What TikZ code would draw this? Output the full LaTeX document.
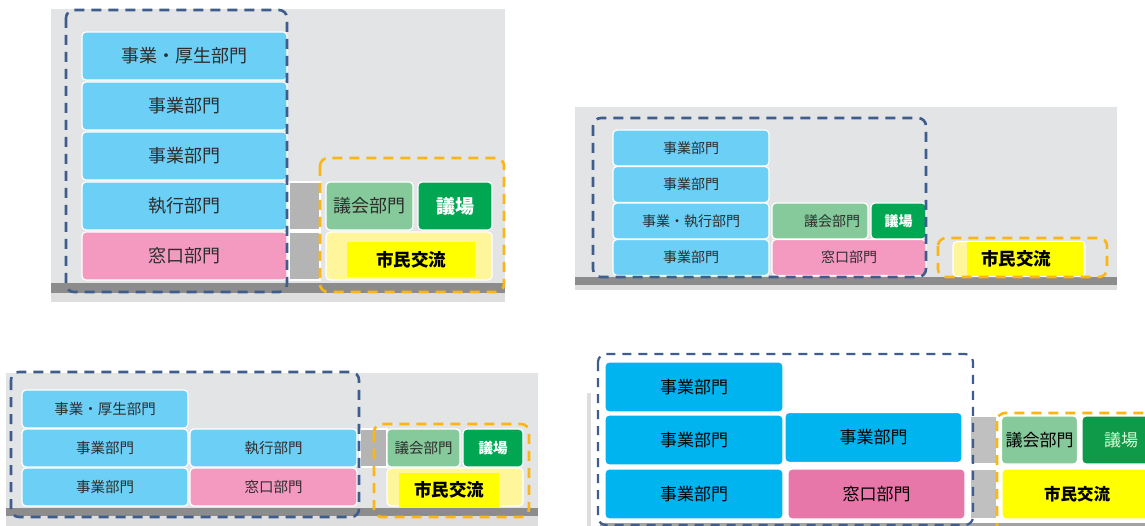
\documentclass[tikz,border=0pt]{standalone}
\usepackage{fontspec}
\setmainfont{Noto Sans CJK JP}

\definecolor{haikei}{RGB}{227,228,230}
\definecolor{jimen}{RGB}{140,140,140}
\definecolor{jimenshita}{RGB}{222,222,222}
\definecolor{tsunagi}{RGB}{180,180,180}
\definecolor{tsunagiD}{RGB}{192,192,192}
\definecolor{ao}{RGB}{108,207,246}
\definecolor{aoD}{RGB}{0,180,239}
\definecolor{momo}{RGB}{244,154,193}
\definecolor{momoD}{RGB}{232,119,169}
\definecolor{usumidori}{RGB}{134,201,154}
\definecolor{midori}{RGB}{0,166,81}
\definecolor{midoriD}{RGB}{14,154,72}
\definecolor{usukiiro}{RGB}{255,245,154}
\definecolor{kiiro}{RGB}{255,255,0}
\definecolor{hasen}{RGB}{62,92,140}
\definecolor{daidai}{RGB}{251,181,21}
\definecolor{moji}{RGB}{45,45,45}

\begin{document}
\begin{tikzpicture}[x=1pt, y=-1pt,
    bu/.style={rectangle, rounded corners=4pt, draw=white, line width=1.2pt, inner sep=0pt, text=moji},
    kaku/.style={rectangle, inner sep=0pt, text=black},
    f18/.style={font=\fontsize{18pt}{18pt}\selectfont},
    f17/.style={font=\fontsize{17pt}{17pt}\selectfont},
    f15/.style={font=\fontsize{14.5pt}{14.5pt}\selectfont},
    f14/.style={font=\fontsize{14pt}{14pt}\selectfont},
    futo/.style={font=\fontsize{#1}{#1}\selectfont\bfseries},
    waku/.style={draw=hasen, line width=2.6pt, dash pattern=on 10pt off 7pt, rounded corners=8pt},
    wakuO/.style={draw=daidai, line width=2.6pt, dash pattern=on 10pt off 7pt, rounded corners=8pt}]
    \useasboundingbox (0,0) rectangle (1145,526);

    % 背景を描画
    \fill[haikei] (51,9) rectangle (505,283);
    \fill[jimen] (51,283) rectangle (505,293);
    \fill[jimenshita] (51,293) rectangle (505,302);
    \fill[haikei] (575,107) rectangle (1117,277);
    \fill[jimen] (575,277) rectangle (1117,285);
    \fill[jimenshita] (575,285) rectangle (1117,290);
    \fill[haikei] (6,373) rectangle (538,508);
    \fill[jimen] (6,508) rectangle (538,516);
    \fill[jimenshita] (6,516) rectangle (538,526);
    \fill[jimenshita] (587,393) rectangle (591,526);
    \fill[jimen!80] (600,523) rectangle (1145,526);

    % ノードを描画（左上）
    \node[bu, f18, fill=ao, minimum width=205pt, minimum height=48pt] (A1) at (184.5,56) {事業・厚生部門};
    \node[bu, f18, fill=ao, minimum width=205pt, minimum height=48pt] (A2) at (184.5,106) {事業部門};
    \node[bu, f18, fill=ao, minimum width=205pt, minimum height=48pt] (A3) at (184.5,156) {事業部門};
    \node[bu, f18, fill=ao, minimum width=205pt, minimum height=48pt] (A4) at (184.5,206) {執行部門};
    \node[bu, f18, fill=momo, minimum width=205pt, minimum height=48pt] (A5) at (184.5,256) {窓口部門};
    \node[bu, fill=tsunagi, rounded corners=0pt, minimum width=31pt, minimum height=48pt] (A6) at (304.5,206) {};
    \node[bu, fill=tsunagi, rounded corners=0pt, minimum width=31pt, minimum height=48pt] (A7) at (304.5,256) {};
    \node[bu, f18, fill=usumidori, minimum width=87pt, minimum height=48pt] (A8) at (369.5,206) {議会部門};
    \node[bu, futo=19pt, fill=midori, text=white, minimum width=74pt, minimum height=48pt] (A9) at (455,206) {議場};
    \node[bu, fill=usukiiro, minimum width=166pt, minimum height=48pt] (A10) at (409,256) {};
    \node[kaku, futo=17.5pt, fill=kiiro, minimum width=128pt, minimum height=35pt] (A11) at (411,259.5) {市民交流};

    % ノードを描画（右上）
    \node[bu, f14, fill=ao, minimum width=156pt, minimum height=36pt] (B1) at (691,148) {事業部門};
    \node[bu, f14, fill=ao, minimum width=156pt, minimum height=36pt] (B2) at (691,184.5) {事業部門};
    \node[bu, f14, fill=ao, minimum width=156pt, minimum height=36pt] (B3) at (691,221) {事業・執行部門};
    \node[bu, f14, fill=ao, minimum width=156pt, minimum height=36pt] (B4) at (691,257.5) {事業部門};
    \node[bu, f14, fill=usumidori, minimum width=96pt, minimum height=36pt, text width=80pt, align=right] (B5) at (820,221) {議会部門};
    \node[bu, futo=14pt, fill=midori, text=white, minimum width=55pt, minimum height=36pt] (B6) at (898.5,221) {議場};
    \node[bu, f14, fill=momo, minimum width=154pt, minimum height=36pt] (B7) at (849,257.5) {窓口部門};
    \node[bu, fill=usukiiro, minimum width=132pt, minimum height=35pt] (B8) at (1019,259) {};
    \node[kaku, futo=17.5pt, fill=kiiro, minimum width=116pt, minimum height=34pt] (B9) at (1025,259) {\hspace*{-18pt}市民交流};

    % ノードを描画（左下）
    \node[bu, f15, fill=ao, minimum width=166pt, minimum height=38pt] (C1) at (105,409) {事業・厚生部門};
    \node[bu, f15, fill=ao, minimum width=166pt, minimum height=38pt] (C2) at (105,448) {事業部門};
    \node[bu, f15, fill=ao, minimum width=166pt, minimum height=38pt] (C3) at (105,487) {事業部門};
    \node[bu, f15, fill=ao, minimum width=167pt, minimum height=38pt] (C4) at (273.5,448) {執行部門};
    \node[bu, f15, fill=momo, minimum width=167pt, minimum height=38pt] (C5) at (273.5,487) {窓口部門};
    \node[bu, fill=tsunagi, rounded corners=0pt, minimum width=27pt, minimum height=38pt] (C6) at (373.5,448) {};
    \node[bu, f15, fill=usumidori, minimum width=73pt, minimum height=38pt] (C7) at (423.5,448) {議会部門};
    \node[bu, futo=14.5pt, fill=midori, text=white, minimum width=60pt, minimum height=38pt] (C8) at (493,448) {議場};
    \node[bu, fill=usukiiro, minimum width=136pt, minimum height=38pt] (C9) at (455,487) {};
    \node[kaku, futo=17.5pt, fill=kiiro, minimum width=100pt, minimum height=34pt] (C10) at (449,490) {市民交流};

    % ノードを描画（右下）
    \node[bu, f17, fill=aoD, text=black, minimum width=178pt, minimum height=50pt] (D1) at (694,387) {事業部門};
    \node[bu, f17, fill=aoD, text=black, minimum width=178pt, minimum height=50pt] (D2) at (694,440) {事業部門};
    \node[bu, f17, fill=aoD, text=black, minimum width=178pt, minimum height=50pt] (D3) at (694,494) {事業部門};
    \node[bu, f17, fill=aoD, text=black, minimum width=177pt, minimum height=50pt] (D4) at (873.5,437.5) {事業部門};
    \node[bu, f17, fill=momoD, text=black, minimum width=177pt, minimum height=50pt] (D5) at (876.5,494) {窓口部門};
    \node[bu, fill=tsunagiD, rounded corners=0pt, minimum width=27pt, minimum height=48pt] (D6) at (983.5,440) {};
    \node[bu, fill=tsunagiD, rounded corners=0pt, minimum width=27pt, minimum height=50pt] (D7) at (983.5,494) {};
    \node[bu, f17, fill=usumidori, text=black, minimum width=76pt, minimum height=48pt] (D8) at (1039.5,440) {議会部門};
    \node[bu, f17, fill=midoriD, text=green!15, minimum width=78pt, minimum height=48pt] (D9) at (1121,440) {議場};
    \node[bu, futo=16.5pt, fill=kiiro, text=black, minimum width=158pt, minimum height=50pt] (D10) at (1081,494) {\hspace*{-8pt}市民交流};

    % 枠を描画
    \draw[waku] (66,10) rectangle (287,292);
    \draw[wakuO] (320,158) rectangle (504,292);
    \draw[waku] (593,118) rectangle (926,277);
    \draw[wakuO] (938,238) rectangle (1107,277);
    \draw[waku] (11,372) rectangle (359,517);
    \draw[wakuO] (374,424) rectangle (529,517);
    \draw[waku, line width=2.2pt, dash pattern=on 9pt off 7pt] (598,354) rectangle (973,525);
    \draw[wakuO] (997,413) rectangle (1165,540);
\end{tikzpicture}
\end{document}
